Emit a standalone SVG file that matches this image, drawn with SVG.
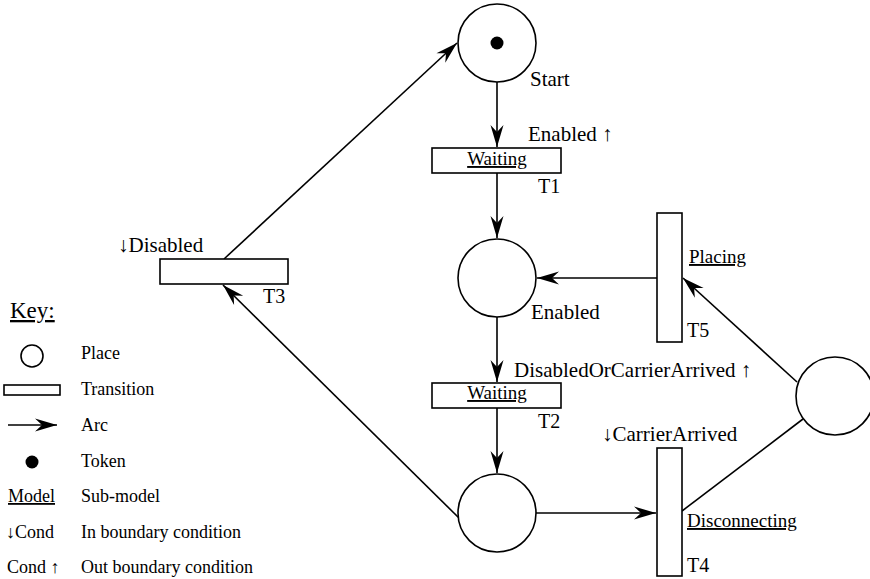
<svg xmlns="http://www.w3.org/2000/svg" width="870" height="579" viewBox="0 0 870 579">
<style>
.pl{fill:#fff;stroke:#000;stroke-width:1.6}
.tr{fill:#fff;stroke:#000;stroke-width:1.6}
.arc{fill:none;stroke:#000;stroke-width:1.6}
.lb{font-family:"Liberation Serif","Times New Roman",serif;font-size:21px;fill:#000}
.tl{font-family:"Liberation Serif","Times New Roman",serif;font-size:20px;fill:#000}
.sm{font-family:"Liberation Serif","Times New Roman",serif;font-size:19px;fill:#000;text-decoration:underline}
.lg{font-family:"Liberation Serif","Times New Roman",serif;font-size:18px;fill:#000}
</style>
<defs>
<marker id="ah" markerUnits="userSpaceOnUse" orient="auto" viewBox="-24 -8 25 16" markerWidth="25" markerHeight="16" refX="0" refY="0">
<path d="M0,0 L-22,-6.5 L-15,0 L-22,6.5 Z" fill="#000"/>
</marker>
</defs>

<g id="connectors">
<line class="arc" x1="497" y1="82" x2="497" y2="147" marker-end="url(#ah)"/>
<line class="arc" x1="497" y1="173" x2="497" y2="238" marker-end="url(#ah)"/>
<line class="arc" x1="497" y1="317" x2="497" y2="382" marker-end="url(#ah)"/>
<line class="arc" x1="497" y1="408" x2="497" y2="473" marker-end="url(#ah)"/>
<line class="arc" x1="536" y1="513" x2="656" y2="513" marker-end="url(#ah)"/>
<line class="arc" x1="682" y1="511" x2="803" y2="419"/>
<line class="arc" x1="797" y1="382" x2="683" y2="278" marker-end="url(#ah)"/>
<line class="arc" x1="657" y1="278" x2="537" y2="278" marker-end="url(#ah)"/>
<line class="arc" x1="459" y1="518" x2="223" y2="285" marker-end="url(#ah)"/>
<line class="arc" x1="224" y1="259" x2="457" y2="43" marker-end="url(#ah)"/>
</g>

<g id="Start">
<circle class="pl" cx="497" cy="43" r="39"/>
<circle cx="497" cy="43" r="6.5" fill="#000"/>
<text class="lb" x="530" y="86">Start</text>
</g>

<g id="T1">
<rect class="tr" x="432" y="148" width="129" height="25"/>
<text class="sm" x="497" y="165" text-anchor="middle">Waiting</text>
<text class="lb" x="528" y="141">Enabled ↑</text>
<text class="tl" x="538" y="193">T1</text>
</g>

<g id="Enabled">
<circle class="pl" cx="497" cy="278" r="39"/>
<text class="lb" x="531" y="319">Enabled</text>
</g>

<g id="T2">
<rect class="tr" x="432" y="383" width="129" height="25"/>
<text class="sm" x="497" y="399" text-anchor="middle">Waiting</text>
<text class="lb" x="514" y="377">DisabledOrCarrierArrived ↑</text>
<text class="tl" x="538" y="428">T2</text>
</g>

<g id="Bottom">
<circle class="pl" cx="497" cy="513" r="39"/>
</g>

<g id="T4">
<rect class="tr" x="657" y="448" width="25" height="128"/>
<text class="lb" x="602" y="441">↓CarrierArrived</text>
<text class="sm" x="687" y="527">Disconnecting</text>
<text class="tl" x="687" y="572">T4</text>
</g>

<g id="Right">
<circle class="pl" cx="835" cy="396" r="39"/>
</g>

<g id="T5">
<rect class="tr" x="657" y="213" width="25" height="129"/>
<text class="sm" x="689" y="263">Placing</text>
<text class="tl" x="687" y="337">T5</text>
</g>

<g id="T3">
<rect class="tr" x="160" y="259" width="128" height="25"/>
<text class="lb" x="118" y="252">↓Disabled</text>
<text class="tl" x="263" y="303">T3</text>
</g>

<g id="key">
<text x="10" y="318" font-family="'Liberation Serif','Times New Roman',serif" font-size="23" text-decoration="underline">Key:</text>
<circle class="pl" cx="32" cy="356" r="11" stroke-width="1.4"/>
<text class="lg" x="81" y="359">Place</text>
<rect class="tr" x="4" y="385" width="56" height="10" stroke-width="1.4"/>
<text class="lg" x="81" y="395">Transition</text>
<line class="arc" x1="8" y1="425" x2="57" y2="425" marker-end="url(#ah)"/>
<text class="lg" x="81" y="431">Arc</text>
<circle cx="32" cy="462" r="6.5" fill="#000"/>
<text class="lg" x="81" y="467">Token</text>
<text class="lg" x="8" y="502" text-decoration="underline">Model</text>
<text class="lg" x="81" y="502">Sub-model</text>
<text class="lg" x="6" y="538">↓Cond</text>
<text class="lg" x="81" y="538">In boundary condition</text>
<text class="lg" x="7" y="573">Cond ↑</text>
<text class="lg" x="81" y="573">Out boundary condition</text>
</g>
</svg>
